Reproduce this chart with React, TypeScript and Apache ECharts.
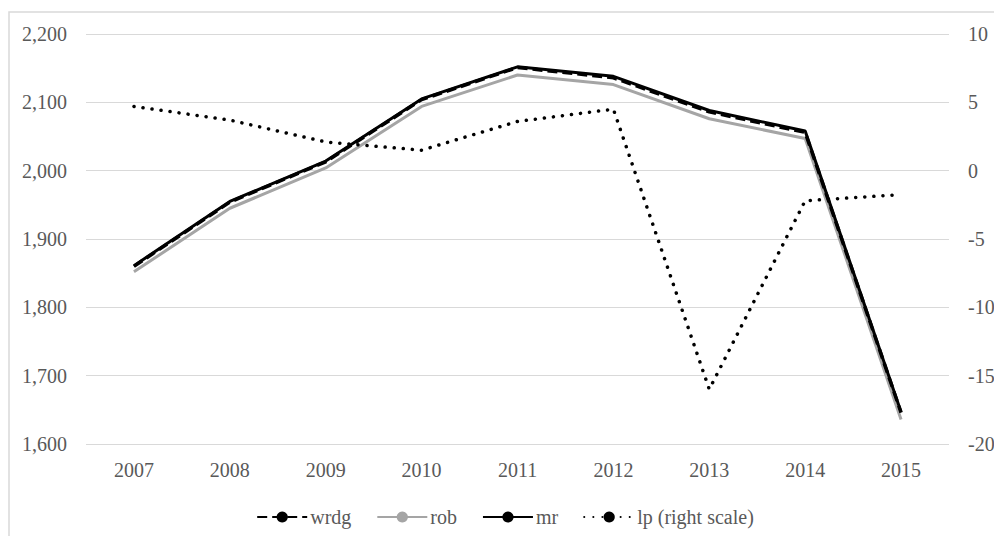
import React, { useEffect, useRef } from "react";
import * as echarts from "echarts";

const years = ["2007", "2008", "2009", "2010", "2011", "2012", "2013", "2014", "2015"];
const wrdg = [1860, 1954, 2013, 2104, 2151, 2136, 2086, 2056, 1646];
const rob = [1852, 1945, 2004, 2094, 2140, 2126, 2076, 2047, 1636];
const mr = [1861, 1955, 2014, 2105, 2152, 2138, 2088, 2058, 1647];
const lp = [4.7, 3.7, 2.1, 1.5, 3.6, 4.5, -16.0, -2.2, -1.75];

const FONT = "Liberation Serif";
const TEXT = "#595959";

export default function App() {
  const ref = useRef<HTMLDivElement>(null);
  useEffect(() => {
    const chart = echarts.init(ref.current!, null, { renderer: "svg" });
    chart.setOption({
      animation: false,
      backgroundColor: "#fff",
      textStyle: { fontFamily: FONT, color: TEXT },
      graphic: [
        {
          type: "rect",
          shape: { x: 1, y: 4, width: 1010, height: 600 },
          style: { fill: "none", stroke: "#d9d9d9", lineWidth: 1.5 },
          silent: true,
        },
      ],
      grid: { left: 78, right: 53, top: 26, bottom: 92 },
      legend: {
        top: 494,
        left: "center",
        itemWidth: 50,
        itemHeight: 14,
        itemGap: 25,
        textStyle: { fontFamily: FONT, fontSize: 20, color: TEXT, padding: [0, 0, 0, -2] },
        data: ["wrdg", "rob", "mr", "lp (right scale)"],
      },
      xAxis: {
        type: "category",
        data: years,
        boundaryGap: true,
        axisLine: { show: false },
        axisTick: { show: false },
        axisLabel: { fontFamily: FONT, fontSize: 20, color: TEXT, margin: 16 },
      },
      yAxis: [
        {
          type: "value",
          min: 1600,
          max: 2200,
          interval: 100,
          axisLine: { show: false },
          axisTick: { show: false },
          axisLabel: { fontFamily: FONT, fontSize: 20, color: TEXT, margin: 19 },
          splitLine: { lineStyle: { color: "#d9d9d9", width: 1 } },
        },
        {
          type: "value",
          min: -20,
          max: 10,
          interval: 5,
          position: "right",
          axisLine: { show: false },
          axisTick: { show: false },
          axisLabel: { fontFamily: FONT, fontSize: 20, color: TEXT, margin: 19 },
          splitLine: { show: false },
        },
      ],
      series: [
        {
          name: "wrdg",
          type: "line",
          data: wrdg,
          symbol: "none",
          z: 4,
          color: "#000",
          lineStyle: { color: "#000", width: 3.5, type: [10, 5] },
        },
        {
          name: "rob",
          type: "line",
          data: rob,
          symbol: "none",
          z: 2,
          color: "#a5a5a5",
          lineStyle: { color: "#a5a5a5", width: 3 },
        },
        {
          name: "mr",
          type: "line",
          data: mr,
          symbol: "none",
          z: 3,
          color: "#000",
          lineStyle: { color: "#000", width: 3 },
        },
        {
          name: "lp (right scale)",
          type: "line",
          data: lp,
          yAxisIndex: 1,
          symbol: "none",
          z: 5,
          color: "#000",
          lineStyle: { color: "#000", width: 3.5, type: [0.1, 9], cap: "round" },
        },
      ],
    });
    return () => chart.dispose();
  }, []);
  return <div ref={ref} style={{ width: 994, height: 528 }} />;
}
